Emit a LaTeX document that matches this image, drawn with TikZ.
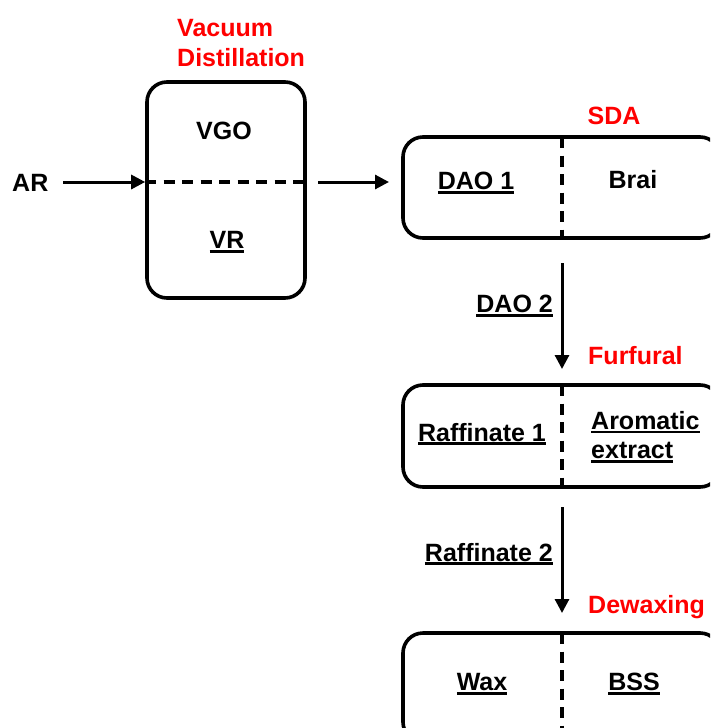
\documentclass[tikz,border=0pt]{standalone}
\usepackage{fontspec}
\setmainfont{Liberation Sans}
\usetikzlibrary{arrows.meta}
\newcommand\ulx[1]{\setbox0\hbox{#1}\rlap{\rule[-4pt]{\wd0}{2.8pt}}\box0}
\tikzset{
  lbl/.style={font=\fontsize{25}{29.5}\selectfont\bfseries, inner sep=0pt},
  redlbl/.style={lbl, text=red},
  unitbox/.style={draw, line width=3.6pt, rounded corners=20pt, inner sep=0pt},
  divider/.style={line width=3.3pt, dash pattern=on 11pt off 7.5pt},
  flow/.style={line width=3pt, -{Triangle[length=14pt,width=14pt]}}
}
\begin{document}
\begin{tikzpicture}[x=1pt,y=-1pt]
\useasboundingbox (0,0) rectangle (710,728);
\clip (0,0) rectangle (710,728);
% Vacuum distillation
\node[unitbox, minimum width=158pt, minimum height=216pt] (vd) at (226,190) {};
\node[redlbl, align=left, anchor=west] (vdt) at (177,43) {Vacuum\\Distillation};
\node[lbl] (vgo) at (224,131) {VGO};
\node[lbl] (vr) at (227,242) {\ulx{VR}};
\node[lbl, anchor=west] (ar) at (12,183) {AR};
\coordinate (ars) at (63,182);
\draw[divider] (vd.west |- 0,182) -- (vd.east |- 0,182);
% SDA
\node[unitbox, minimum width=317pt, minimum height=101pt] (sda) at (561.5,187.5) {};
\node[redlbl] (sdat) at (614,116) {SDA};
\node[lbl] (dao1) at (476,183) {\ulx{DAO 1}};
\node[lbl] (brai) at (633,180) {Brai};
\draw[divider] (562,137) -- (562,238);
% Furfural
\node[unitbox, minimum width=317pt, minimum height=102pt] (fur) at (561.5,436) {};
\node[redlbl, anchor=west] (furt) at (588,356) {Furfural};
\node[lbl] (raf1) at (482,434) {\ulx{Raffinate 1}};
\node[lbl, align=left, anchor=west] (arom) at (591,437) {\ulx{Aromatic}\\\ulx{extract}};
\draw[divider] (562,385) -- (562,487);
% Dewaxing
\node[unitbox, minimum width=317pt, minimum height=109pt] (dew) at (561.5,687.5) {};
\node[redlbl, anchor=west] (dewt) at (588,607) {Dewaxing};
\node[lbl] (wax) at (482,684) {\ulx{Wax}};
\node[lbl] (bss) at (634,684) {\ulx{BSS}};
\draw[divider] (562,633) -- (562,728);
% flows
\draw[flow] (ars) -- (vd.west |- 0,182);
\coordinate (a1s) at (318,182);
\coordinate (a1e) at (389,182);
\draw[flow] (a1s) -- (a1e);
\coordinate (a2s) at (562,263);
\coordinate (a2e) at (562,369);
\draw[flow] (a2s) -- (a2e);
\node[lbl, anchor=east] (dao2) at (553,306) {\ulx{DAO 2}};
\coordinate (a3s) at (562,507);
\coordinate (a3e) at (562,613);
\draw[flow] (a3s) -- (a3e);
\node[lbl, anchor=east] (raf2) at (553,554) {\ulx{Raffinate 2}};
\end{tikzpicture}
\end{document}
